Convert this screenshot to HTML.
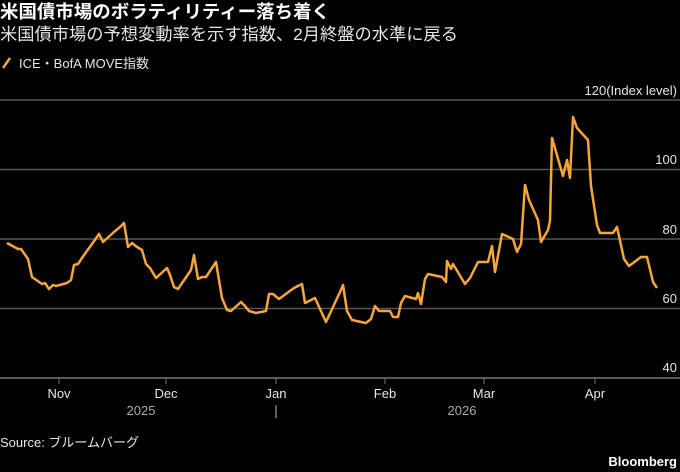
<!DOCTYPE html>
<html><head><meta charset="utf-8"><style>
body{margin:0;background:#000;width:680px;height:472px;overflow:hidden;font-family:"Liberation Sans","Noto Sans CJK JP",sans-serif;color:#fff}
</style></head><body>
<svg width="680" height="472" viewBox="0 0 680 472" xmlns="http://www.w3.org/2000/svg" style="position:absolute;left:0;top:0">
<g font-family="Liberation Sans, Noto Sans CJK JP, sans-serif">
<text x="0" y="18" font-size="18" font-weight="bold" fill="#fff" textLength="330" lengthAdjust="spacingAndGlyphs">米国債市場のボラティリティー落ち着く</text>
<text x="0" y="40" font-size="17" fill="#e6e6e6" textLength="458" lengthAdjust="spacingAndGlyphs">米国債市場の予想変動率を示す指数、2月終盤の水準に戻る</text>
<line x1="3" y1="68" x2="10" y2="58" stroke="#f5a53a" stroke-width="2.5"/>
<text x="19" y="68" font-size="13" fill="#e6e6e6">ICE・BofA MOVE指数</text>
<g stroke="#555" stroke-width="1.5">
<line x1="0" y1="100" x2="680" y2="100"/>
<line x1="0" y1="169.5" x2="680" y2="169.5"/>
<line x1="0" y1="239" x2="680" y2="239"/>
<line x1="0" y1="308.5" x2="680" y2="308.5"/>
</g>
<line x1="0" y1="378" x2="680" y2="378" stroke="#777" stroke-width="1.5"/>
<g stroke="#777" stroke-width="1">
<line x1="59" y1="378" x2="59" y2="384"/><line x1="166" y1="378" x2="166" y2="384"/><line x1="276" y1="378" x2="276" y2="384"/><line x1="385" y1="378" x2="385" y2="384"/><line x1="484" y1="378" x2="484" y2="384"/><line x1="595" y1="378" x2="595" y2="384"/>
<line x1="276" y1="405" x2="276" y2="418" stroke="#bbb"/>
</g>
<g font-size="13" fill="#e6e6e6" text-anchor="end">
<text x="677" y="95">120(Index level)</text>
<text x="677" y="164">100</text>
<text x="677" y="234">80</text>
<text x="677" y="303">60</text>
<text x="677" y="372">40</text>
</g>
<g font-size="13" fill="#e6e6e6" text-anchor="middle">
<text x="59" y="398">Nov</text><text x="166" y="398">Dec</text><text x="276" y="398">Jan</text><text x="385" y="398">Feb</text><text x="484" y="398">Mar</text><text x="595" y="398">Apr</text>
<text x="141" y="415" fill="#aaa">2025</text><text x="462" y="415" fill="#aaa">2026</text>
</g>
<text x="0" y="447" font-size="13" fill="#e6e6e6">Source: ブルームバーグ</text>
<text x="677" y="466" font-size="13" font-weight="bold" fill="#fff" text-anchor="end">Bloomberg</text>
<polyline fill="none" stroke="#f5a53a" stroke-width="2.5" stroke-linejoin="round" points="7,243 18,249 21,249 28,259 32,277 42,284 45,283 49,289 53,285 56,286 67,283 71,280 74,265 78,264 84,255 92,244 99,234 103,242 114,232 120,227 124,223 128,247 132,243 137,247 142,250 146,264 150,268 156,278 167,268 170,275 174,287 178,289 191,270 194,255 198,279 202,277 206,277 216,262 222,298 227,310 231,311 241,302 245,306 249,311 256,313 266,311 269,294 273,294 279,299 294,288 302,284 305,303 315,298 326,322 340,292 343,285 347,311 352,320 366,323 371,319 375,306 379,311 390,311 393,317 398,317 401,303 405,296 416,299 418,293 421,304 425,279 428,274 442,277 446,282 447,261 451,269 453,264 465,284 470,278 478,262 488,262 492,246 495,272 502,234 513,239 517,252 521,244 525,185 529,200 538,220 541,242 548,230 550,221 552,138 563,176 567,160 570,178 573,117 577,128 588,140 591,186 597,225 600,233 613,233 617,227 624,259 629,266 641,257 647,257 653,282 657,288"/>
</g>
</svg>
</body></html>
